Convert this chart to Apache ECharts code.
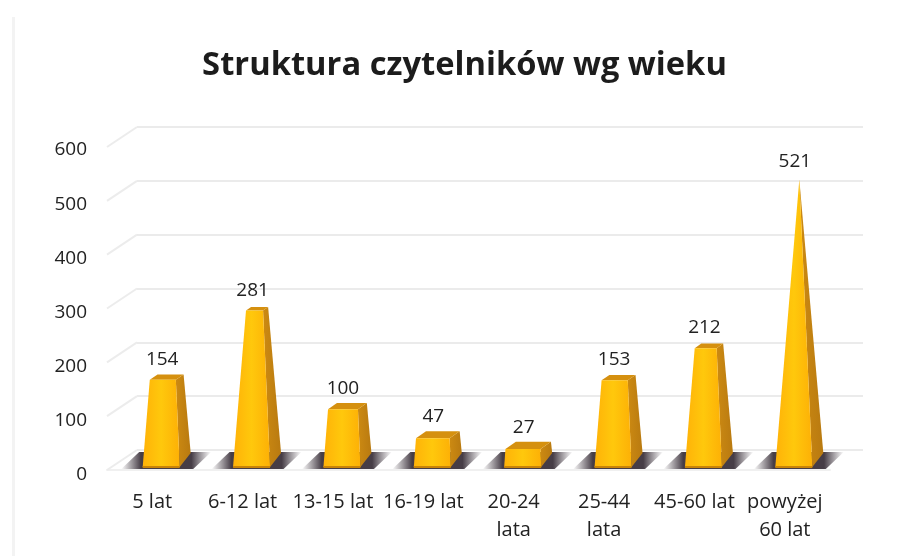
<!DOCTYPE html>
<html><head><meta charset="utf-8">
<style>html,body{margin:0;padding:0;background:#fff}#c{width:901px;height:556px}</style>
<script src="https://cdn.jsdelivr.net/npm/echarts@6/dist/echarts.min.js"></script>
</head><body><div id="c"></div>
<script>
var titleText = 'Struktura czytelników wg wieku';
var categories = ['5 lat','6-12 lat','13-15 lat','16-19 lat','20-24\nlata','25-44\nlata','45-60 lat','powyżej\n60 lat'];
var values = [154,281,100,47,27,153,212,521];
var ticks = [0,100,200,300,400,500,600];

var font = '"Open Sans", sans-serif';
var textColor = '#222222';
var maxValue = Math.max.apply(null, values);

function lerp(p, q, t){ return [p[0]+(q[0]-p[0])*t, p[1]+(q[1]-p[1])*t]; }
function grad(x0,y0,x,y,stops){ return {type:'linear',x:x0,y:y0,x2:x,y2:y,colorStops:stops.map(function(s){return {offset:s[0],color:s[1]};})}; }

function renderBar(params, api){
  var v = api.value(1);
  var base = api.coord([api.value(0), 0]);
  var apexC = api.coord([api.value(0), maxValue]);
  var cx = base[0] + 9, y0 = base[1] - 10;
  var apex = [cx + 5.5, apexC[1] - 10];
  var hw = 18.5, depth = 7, topDepth = 0.55;
  var fl = [cx-hw, y0+depth], fr = [cx+hw, y0+depth], br = [cx+hw+11, y0-depth], bl = [cx-hw+11, y0-depth];
  var t = v / maxValue;
  var topY = y0 + (apex[1]-y0)*t;
  var dy = depth*(1-t)*topDepth;
  function top(p, sign){ var q = lerp(p,apex,t); return [q[0], topY + sign*dy]; }
  var tfl = top(fl,1), tfr = top(fr,1), tbr = top(br,-1), tbl = top(bl,-1);
  return {type:'group', children:[
    {type:'polygon', shape:{points:[[cx-40,y0+9],[cx+32,y0+9],[cx+50,y0-8],[cx-22,y0-8]]},
     style:{fill:grad(0,0,1,0,[[0,'rgba(60,50,60,0)'],[0.22,'rgba(50,40,50,0.9)'],[0.78,'rgba(50,40,50,0.9)'],[1,'rgba(60,50,60,0)'] ])}},
    {type:'polygon', shape:{points:[fr,br,tbr,tfr]}, style:{fill:grad(0,0,1,0,[[0,'#cc8a12'],[1,'#b97a10'] ])}},
    {type:'polygon', shape:{points:[tfl,tfr,tbr,tbl]}, style:{fill:'#d5900f'}},
    {type:'polygon', shape:{points:[fl,fr,tfr,tfl]}, style:{fill:grad(0,0,1,0,[[0,'#ffb208'],[0.5,'#ffc80c'],[1,'#fdb006'] ])}},
    {type:'rect', shape:{x:fl[0],y:fl[1]-1,width:hw*2,height:2}, style:{fill:'#c98408'}},
    {type:'text', style:{text:String(v), x:cx+1, y:topY-18, align:'center', verticalAlign:'middle', font:'19px '+font, fill:textColor}}
  ]};
}
function renderWall(params, api){
  var p = api.coord([0, api.value(0)]);
  return {type:'line', shape:{x1:p[0],y1:p[1],x2:p[0]-30,y2:p[1]+20},
    style:{stroke:'#ececec', lineWidth:2}};
}

var chart = echarts.init(document.getElementById('c'), null, {renderer:'canvas'});
chart.setOption({
  animation:false,
  backgroundColor:'#ffffff',
  title:{text:titleText, left:459.5, top:44, textAlign:'center',
    textStyle:{fontFamily:font, fontSize:32.7, fontWeight:'bold', color:'#1c1c1c'}},
  graphic:[{type:'rect', silent:true, z:0, shape:{x:12,y:17,width:3,height:539}, style:{fill:'#f3f3f3'}}],
  grid:[
    {left:107, top:147, width:723, height:323},
    {left:137, top:127, width:726, height:323},
    {left:107, top:150, width:723, height:325}
  ],
  xAxis:[
    {gridIndex:0, type:'category', data:categories, offset:3,
     axisTick:{show:false}, axisLine:{lineStyle:{color:'#f0f0f0',width:2}},
     axisLabel:{fontFamily:font, fontSize:20, color:textColor, margin:15, lineHeight:28, interval:0, verticalAlign:'top'}},
    {gridIndex:1, type:'value', min:0, max:1, show:false},
    {gridIndex:2, type:'value', min:0, max:1, show:false}
  ],
  yAxis:[
    {gridIndex:0, type:'value', min:0, max:600, interval:100, show:false},
    {gridIndex:1, type:'value', min:0, max:600, interval:100,
     axisLine:{show:false}, axisTick:{show:false}, axisLabel:{show:false},
     splitLine:{show:true, lineStyle:{color:'#ebebeb', width:2}}},
    {gridIndex:2, type:'value', min:0, max:600, interval:100,
     axisLine:{show:false}, axisTick:{show:false}, splitLine:{show:false},
     axisLabel:{fontFamily:font, fontSize:19, color:textColor, margin:20}}
  ],
  series:[
    {type:'custom', xAxisIndex:1, yAxisIndex:1, coordinateSystem:'cartesian2d', data:ticks.map(function(t){return [t];}),
     encode:{y:0}, renderItem:renderWall, silent:true, z:1, clip:false},
    {type:'custom', xAxisIndex:0, yAxisIndex:0, coordinateSystem:'cartesian2d',
     data:values.map(function(v,i){return [i,v];}), encode:{x:0,y:1}, renderItem:renderBar, silent:true, z:3, clip:false}
  ]
});
</script></body></html>
